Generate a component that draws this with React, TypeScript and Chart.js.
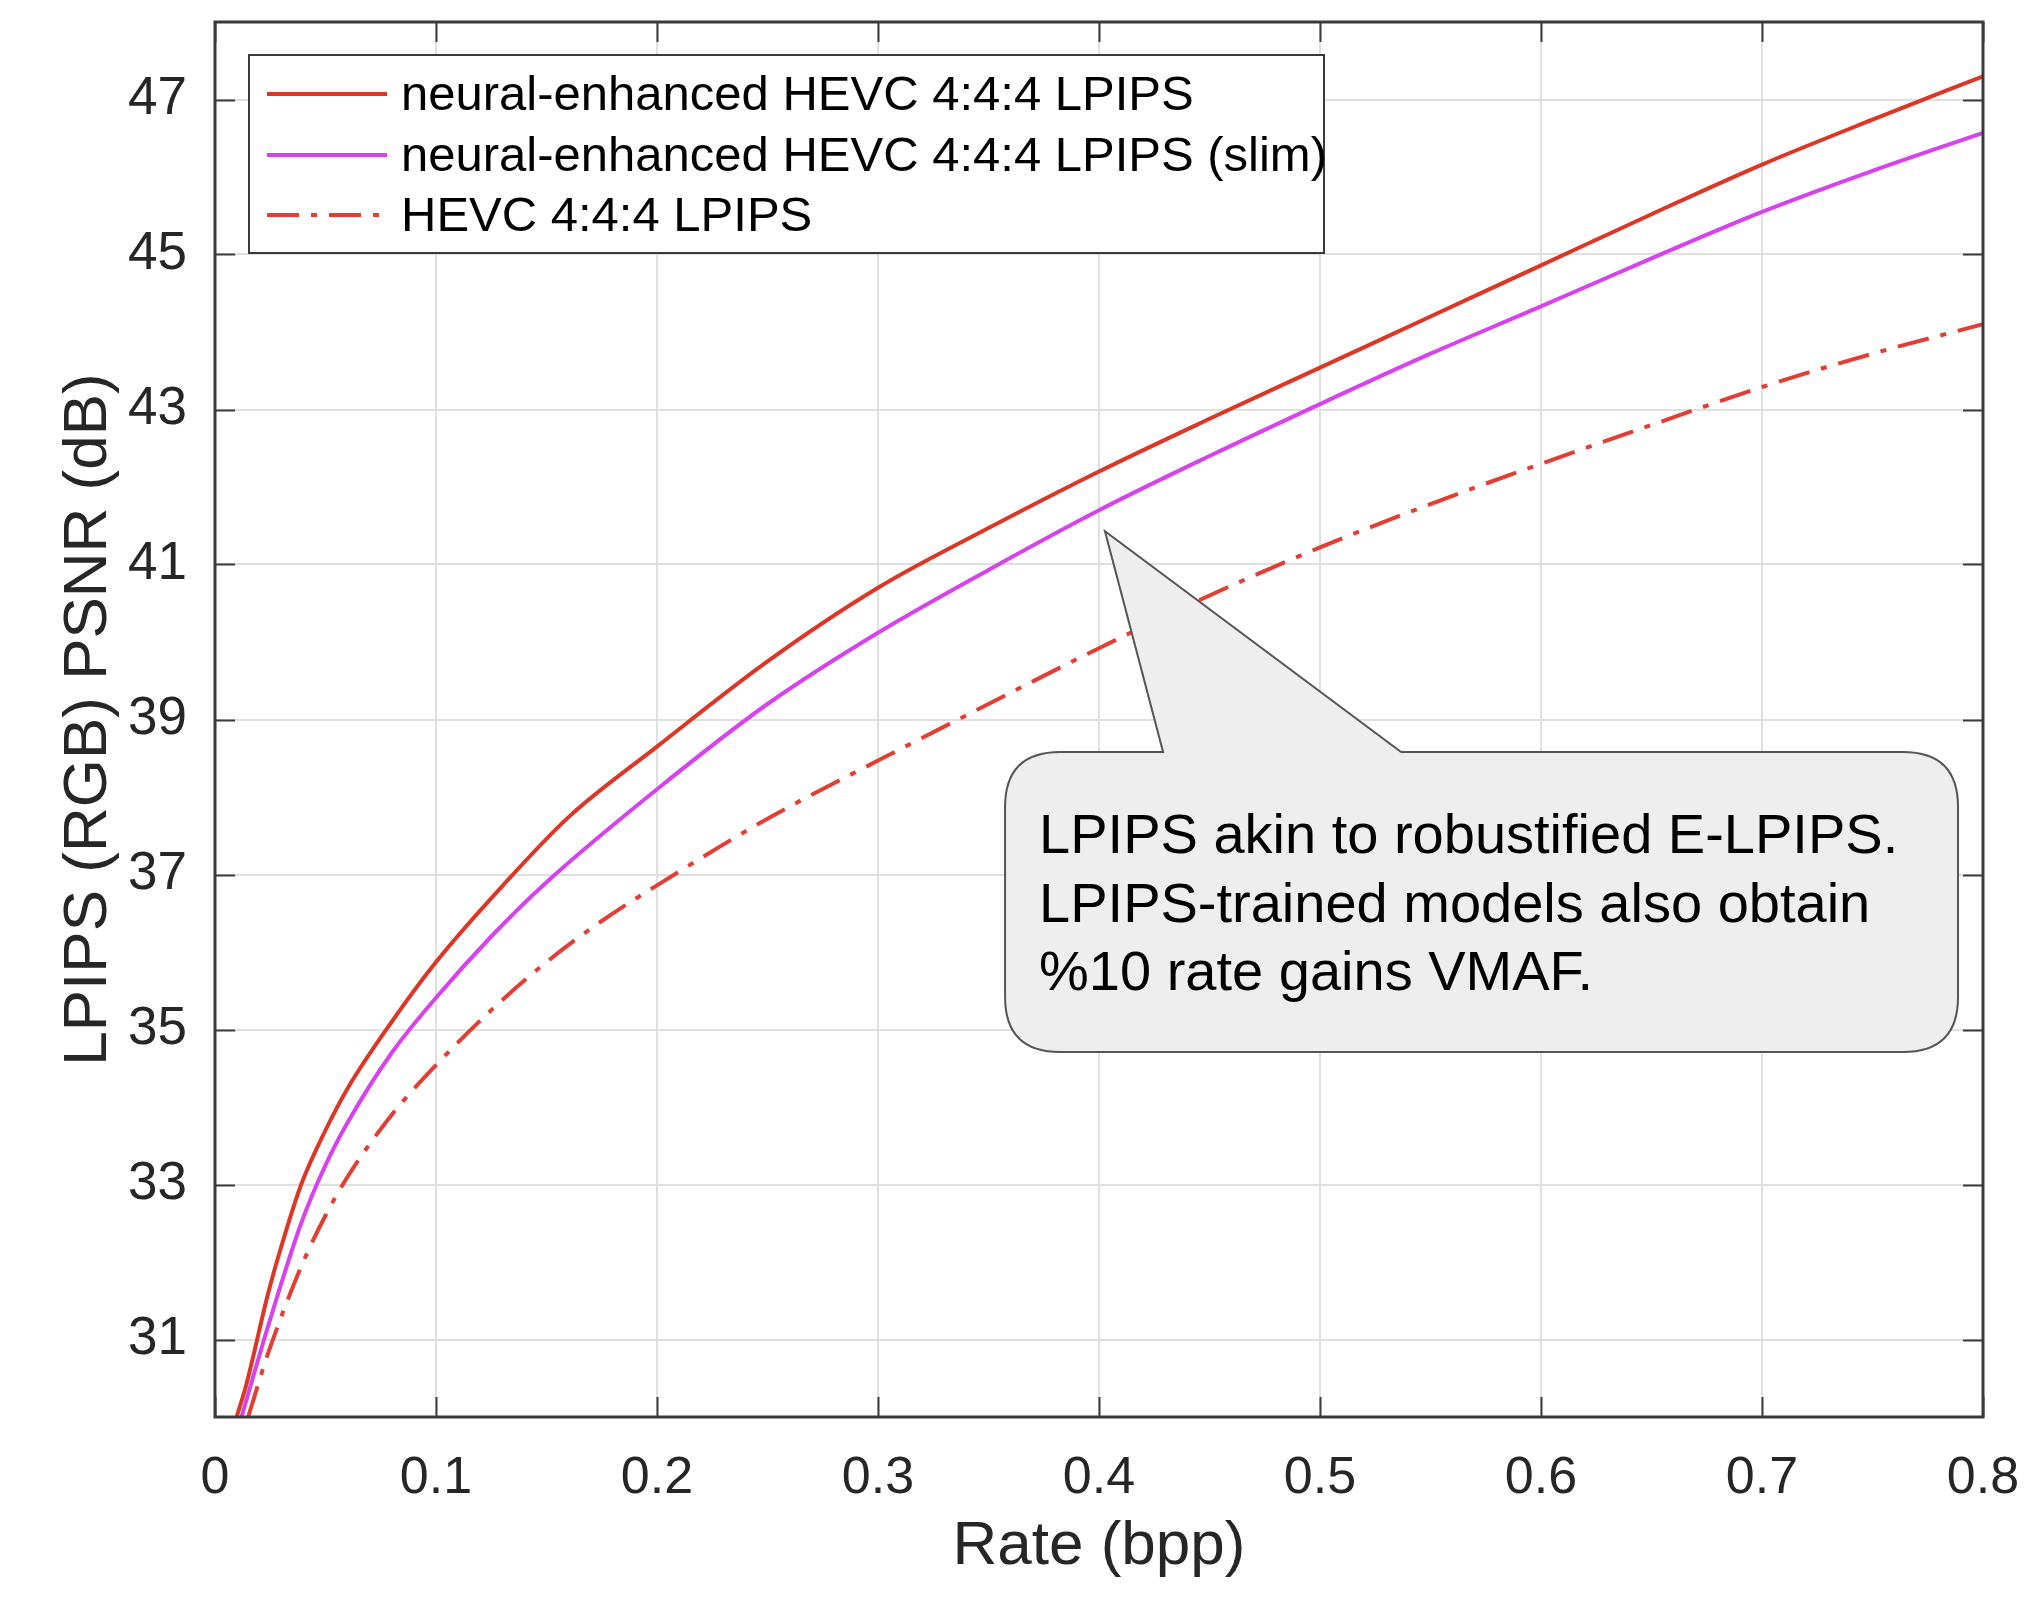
import React, { useEffect, useRef } from "react";
import { Chart, registerables } from "chart.js";

Chart.register(...registerables);

// ---------- data ----------
const seriesLabels = [
  "neural-enhanced HEVC 4:4:4 LPIPS",
  "neural-enhanced HEVC 4:4:4 LPIPS (slim)",
  "HEVC 4:4:4 LPIPS",
];

const neuralRate = [0.0098, 0.014, 0.024, 0.03, 0.039, 0.05, 0.06, 0.08, 0.1, 0.13, 0.16, 0.2, 0.25, 0.3, 0.35, 0.4, 0.45, 0.5, 0.55, 0.6, 0.65, 0.7, 0.75, 0.8];
const neuralPsnr = [30.0, 30.4, 31.59, 32.2, 33.0, 33.7, 34.24, 35.1, 35.87, 36.85, 37.74, 38.65, 39.75, 40.7, 41.47, 42.2, 42.88, 43.54, 44.2, 44.86, 45.52, 46.16, 46.74, 47.3];

const slimRate = [0.012, 0.024, 0.039, 0.05, 0.06, 0.08, 0.1, 0.125, 0.15, 0.2, 0.25, 0.3, 0.35, 0.4, 0.45, 0.5, 0.55, 0.6, 0.65, 0.7, 0.75, 0.8];
const slimPsnr = [30.0, 31.17, 32.5, 33.25, 33.8, 34.7, 35.41, 36.2, 36.9, 38.1, 39.2, 40.12, 40.93, 41.7, 42.4, 43.07, 43.72, 44.33, 44.95, 45.55, 46.08, 46.57];

const hevcRate = [0.015, 0.024, 0.039, 0.05, 0.06, 0.08, 0.1, 0.125, 0.15, 0.175, 0.2, 0.25, 0.3, 0.35, 0.4, 0.45, 0.5, 0.55, 0.6, 0.65, 0.7, 0.75, 0.8];
const hevcPsnr = [30.0, 30.82, 31.94, 32.6, 33.1, 33.9, 34.54, 35.25, 35.87, 36.4, 36.86, 37.72, 38.47, 39.2, 39.92, 40.6, 41.22, 41.78, 42.3, 42.8, 43.29, 43.72, 44.1];

const xTickValues = [0, 0.1, 0.2, 0.3, 0.4, 0.5, 0.6, 0.7, 0.8];
const xTickLabels = ["0", "0.1", "0.2", "0.3", "0.4", "0.5", "0.6", "0.7", "0.8"];
const yTickValues = [31, 33, 35, 37, 39, 41, 43, 45, 47];
const yTickLabels = ["31", "33", "35", "37", "39", "41", "43", "45", "47"];

const xTitle = "Rate (bpp)";
const yTitle = "LPIPS (RGB) PSNR (dB)";

const calloutLines = [
  "LPIPS akin to robustified E-LPIPS.",
  "LPIPS-trained models also obtain",
  "%10 rate gains VMAF.",
];

// ---------- styles ----------
const FONT = '"Liberation Sans", Arial, Helvetica, sans-serif';
const AXIS_COLOR = "#3a3a3a";
const TEXT_COLOR = "#262626";
const RED = "rgb(220,54,38)";
const MAGENTA = "rgb(214,66,236)";
const RED_DASH = "rgb(226,62,52)";
const DASH_DOT = [32, 12, 6, 12];

function toPoints(xs: number[], ys: number[]) {
  return xs.map((x, i) => ({ x, y: ys[i] }));
}

export default function App() {
  const canvasRef = useRef<HTMLCanvasElement | null>(null);

  useEffect(() => {
    const canvas = canvasRef.current;
    if (!canvas) return;

    const framePlugin = {
      id: "matlabFrame",
      afterDatasetsDraw(chart: any) {
        const { ctx, chartArea } = chart;
        const { left, right, top, bottom } = chartArea;
        const xs = chart.scales.x;
        const ys = chart.scales.y;
        ctx.save();
        ctx.strokeStyle = AXIS_COLOR;
        ctx.lineWidth = 2;
        const tl = 20;
        ctx.beginPath();
        xTickValues.forEach((v) => {
          const px = Math.round(xs.getPixelForValue(v)) + 0.5;
          ctx.moveTo(px, bottom);
          ctx.lineTo(px, bottom - tl);
          ctx.moveTo(px, top);
          ctx.lineTo(px, top + tl);
        });
        yTickValues.forEach((v) => {
          const py = Math.round(ys.getPixelForValue(v)) + 0.5;
          ctx.moveTo(left, py);
          ctx.lineTo(left + tl, py);
          ctx.moveTo(right, py);
          ctx.lineTo(right - tl, py);
        });
        ctx.stroke();
        ctx.lineWidth = 3;
        ctx.strokeRect(left, top, right - left, bottom - top);
        ctx.restore();
      },
    };

    const legendPlugin = {
      id: "matlabLegend",
      afterDraw(chart: any) {
        const { ctx } = chart;
        const bx = 249, by = 55, bw = 1075, bh = 198;
        ctx.save();
        ctx.fillStyle = "#ffffff";
        ctx.fillRect(bx, by, bw, bh);
        ctx.strokeStyle = "#3a3a3a";
        ctx.lineWidth = 2;
        ctx.strokeRect(bx, by, bw, bh);
        const rows = [94, 155, 215];
        chart.data.datasets.forEach((ds: any, i: number) => {
          const y = rows[i];
          ctx.beginPath();
          ctx.strokeStyle = ds.borderColor;
          ctx.lineWidth = ds.borderWidth;
          ctx.setLineDash(ds.borderDash || []);
          ctx.moveTo(267, y);
          ctx.lineTo(387, y);
          ctx.stroke();
          ctx.setLineDash([]);
          ctx.fillStyle = "#000000";
          ctx.font = `49px ${FONT}`;
          ctx.textBaseline = "middle";
          ctx.textAlign = "left";
          ctx.fillText(ds.label, 401, y + 2);
        });
        ctx.restore();
      },
    };

    const calloutPlugin = {
      id: "callout",
      afterDraw(chart: any) {
        const { ctx } = chart;
        const xs = chart.scales.x;
        const ys = chart.scales.y;
        const x0 = xs.getPixelForValue(0.3575);
        const x1 = xs.getPixelForValue(0.7887);
        const y0 = ys.getPixelForValue(38.58);
        const y1 = ys.getPixelForValue(34.71);
        const tipX = xs.getPixelForValue(0.4027);
        const tipY = ys.getPixelForValue(41.43);
        const baseA = xs.getPixelForValue(0.429);
        const baseB = xs.getPixelForValue(0.5367);
        const r = 55;
        ctx.save();
        ctx.beginPath();
        ctx.moveTo(x0 + r, y0);
        ctx.lineTo(baseA, y0);
        ctx.lineTo(tipX, tipY);
        ctx.lineTo(baseB, y0);
        ctx.lineTo(x1 - r, y0);
        ctx.quadraticCurveTo(x1, y0, x1, y0 + r);
        ctx.lineTo(x1, y1 - r);
        ctx.quadraticCurveTo(x1, y1, x1 - r, y1);
        ctx.lineTo(x0 + r, y1);
        ctx.quadraticCurveTo(x0, y1, x0, y1 - r);
        ctx.lineTo(x0, y0 + r);
        ctx.quadraticCurveTo(x0, y0, x0 + r, y0);
        ctx.closePath();
        ctx.fillStyle = "#eeeeee";
        ctx.fill();
        ctx.strokeStyle = "#555555";
        ctx.lineWidth = 2;
        ctx.stroke();
        ctx.fillStyle = "#000000";
        ctx.font = `56px ${FONT}`;
        ctx.textAlign = "left";
        ctx.textBaseline = "alphabetic";
        calloutLines.forEach((line, i) => {
          ctx.fillText(line, x0 + 34, y0 + 101 + i * 68.5);
        });
        ctx.restore();
      },
    };

    const chart = new Chart(canvas, {
      type: "line",
      data: {
        datasets: [
          {
            label: seriesLabels[0],
            data: toPoints(neuralRate, neuralPsnr),
            borderColor: RED,
            borderWidth: 4,
            pointRadius: 0,
            fill: false,
            cubicInterpolationMode: "monotone",
          },
          {
            label: seriesLabels[1],
            data: toPoints(slimRate, slimPsnr),
            borderColor: MAGENTA,
            borderWidth: 4,
            pointRadius: 0,
            fill: false,
            cubicInterpolationMode: "monotone",
          },
          {
            label: seriesLabels[2],
            data: toPoints(hevcRate, hevcPsnr),
            borderColor: RED_DASH,
            borderWidth: 4,
            borderDash: DASH_DOT,
            pointRadius: 0,
            fill: false,
            cubicInterpolationMode: "monotone",
          },
        ],
      },
      options: {
        animation: false,
        responsive: false,
        devicePixelRatio: 1,
        layout: { padding: { top: 22, right: 61, left: 0, bottom: 0 } },
        plugins: {
          legend: { display: false },
          tooltip: { enabled: false },
        },
        scales: {
          x: {
            type: "linear",
            min: 0,
            max: 0.8,
            afterBuildTicks: (s: any) => {
              s.ticks = xTickValues.map((v) => ({ value: v }));
            },
            afterFit: (s: any) => {
              s.height = 186;
              s.paddingLeft = 0;
              s.paddingRight = 0;
            },
            ticks: {
              autoSkip: false,
              maxRotation: 0,
              padding: 30,
              color: TEXT_COLOR,
              font: { family: FONT, size: 52 },
              callback: (_v: any, i: number) => xTickLabels[i],
            },
            grid: {
              color: "#e0e0e0",
              lineWidth: 2,
              drawTicks: false,
            },
            border: { display: false },
            title: {
              display: true,
              text: xTitle,
              color: TEXT_COLOR,
              font: { family: FONT, size: 62 },
              padding: { top: 0, bottom: 19 },
            },
          },
          y: {
            type: "linear",
            min: 30,
            max: 48,
            afterBuildTicks: (s: any) => {
              s.ticks = yTickValues.map((v) => ({ value: v }));
            },
            afterFit: (s: any) => {
              s.width = 215;
              s.paddingTop = 0;
              s.paddingBottom = 0;
            },
            ticks: {
              autoSkip: false,
              padding: 28,
              color: TEXT_COLOR,
              font: { family: FONT, size: 53 },
              callback: (_v: any, i: number) => yTickLabels[i],
            },
            grid: {
              color: "#e0e0e0",
              lineWidth: 2,
              drawTicks: false,
            },
            border: { display: false },
            title: {
              display: true,
              text: yTitle,
              color: TEXT_COLOR,
              font: { family: FONT, size: 62 },
              padding: { top: 52, bottom: 0 },
            },
          },
        },
      },
      plugins: [framePlugin, legendPlugin, calloutPlugin],
    } as any);

    return () => chart.destroy();
  }, []);

  return (
    <div style={{ position: "absolute", left: 0, top: 0, width: 2044, height: 1603, background: "#ffffff" }}>
      <canvas ref={canvasRef} width={2044} height={1603} style={{ display: "block", width: 2044, height: 1603 }} />
    </div>
  );
}
